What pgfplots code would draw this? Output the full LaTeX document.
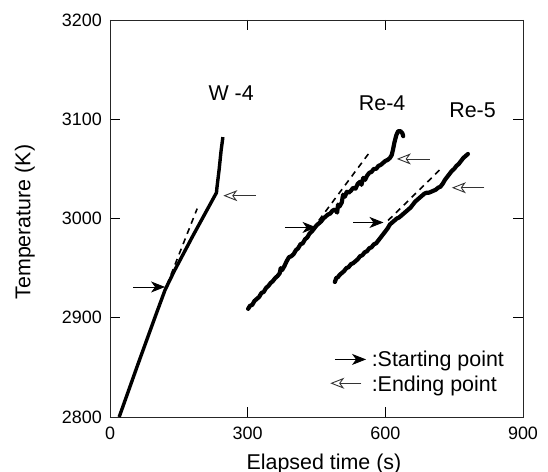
\documentclass[border=0pt]{standalone}
\usepackage{fontspec}
\setmainfont{Liberation Sans}
\usepackage{pgfplots}
\pgfplotsset{compat=1.18}
\usetikzlibrary{arrows.meta}

\newcommand\tickfont{\fontsize{18}{21}\selectfont}
\newcommand\labfont{\fontsize{21.5}{25}\selectfont}

\begin{document}
\begin{tikzpicture}
\useasboundingbox (-110bp,-55bp) rectangle (438bp,417bp);
\begin{axis}[
    at={(0,0)}, anchor=south west,
    scale only axis, width=413bp, height=397bp,
    xmin=0, xmax=900, ymin=2800, ymax=3200,
    xtick={0,300,600,900}, ytick={2800,2900,3000,3100,3200},
    tick align=inside, major tick length=10bp,
    axis line style={black!85, line width=0.8pt},
    tick style={black, line width=0.8pt},
    /pgf/number format/1000 sep={},
    /pgf/number format/assume math mode=true,
    ticklabel style={font=\tickfont, inner sep=0pt},
    xticklabel style={anchor=north, yshift=-10bp},
    yticklabel style={anchor=east, xshift=-8bp},
    xlabel={Elapsed time (s)},
    ylabel={Temperature (K)},
    label style={font=\labfont},
    xlabel style={at={(axis description cs:0.518,-0.131)}, anchor=base},
    ylabel style={at={(axis description cs:-0.206,0.491)}, anchor=center},
    clip=false,
]
% W-4
\addplot[black, line width=3.4bp, line join=round] coordinates {
 (20,2800) (60,2852) (100,2903) (120,2928) (140,2947) (180,2982) (232,3026)
 (233,3031) (238,3050) (242,3068) (246,3082)};
\addplot[black, line width=1.6bp, dash pattern=on 6bp off 5bp] coordinates {(124,2933) (190,3010)};

% Re-4
\addplot[black, line width=4.2bp, line join=round, line cap=round] coordinates {
 (301,2909) (305,2912) (310,2913) (315,2917) (320,2919) (325,2921) (330,2925) (335,2926)
 (340,2930) (345,2932) (350,2935) (355,2937) (360,2940) (365,2942) (370,2945) (372,2950)
 (375,2948) (380,2952) (385,2957) (390,2961) (395,2962) (400,2964) (405,2968) (410,2970)
 (415,2974) (420,2975) (425,2979) (430,2981) (435,2985) (440,2987) (445,2990) (450,2993)
 (455,2995) (460,2997) (465,3000) (470,3002) (475,3004) (480,3005) (485,3008) (490,3009)
 (495,3006) (497,3014) (500,3012) (505,3016) (508,3024) (512,3022) (516,3027) (520,3026)
 (525,3028) (530,3031) (535,3030) (540,3035) (545,3037) (548,3034) (552,3041) (556,3039)
 (560,3043) (565,3046) (570,3047) (575,3050) (580,3050) (585,3053) (590,3054) (595,3056)
 (600,3058) (605,3059) (610,3061) (614,3064) (617,3070) (620,3077) (624,3084) (628,3088)
 (633,3088) (637,3086) (639,3083)};
\addplot[black, line width=1.6bp, dash pattern=on 6bp off 5bp] coordinates {(455,2998) (563,3065)};

% Re-5
\addplot[black, line width=4.2bp, line join=round, line cap=round] coordinates {
 (490,2936) (493,2940) (497,2941) (500,2943) (505,2945) (510,2947) (515,2950) (520,2951)
 (525,2954) (530,2955) (535,2957) (540,2959) (545,2962) (550,2963) (555,2966) (560,2967)
 (565,2970) (570,2971) (575,2974) (580,2975) (585,2978) (590,2981) (595,2984) (600,2987)
 (605,2990) (610,2994) (615,2996) (620,2998) (625,3000) (630,3001) (635,3003) (640,3005)
 (645,3007) (650,3009) (655,3011) (660,3014) (665,3017) (670,3019) (675,3021) (680,3023)
 (685,3025) (690,3026) (695,3026) (700,3027) (705,3028) (710,3029) (715,3031) (720,3032)
 (725,3035) (730,3039) (735,3042) (740,3045) (745,3048) (750,3050) (755,3053) (760,3055)
 (765,3058) (770,3061) (775,3063) (780,3065)};
\addplot[black, line width=1.6bp, dash pattern=on 6bp off 5bp] coordinates {(606,2998) (723,3051)};

% starting-point arrows
\addplot[black, line width=0.9pt, -{Stealth[length=14bp, width=11bp, inset=4bp]}] coordinates {(51,2931) (120,2931)};
\addplot[black, line width=0.9pt, -{Stealth[length=14bp, width=11bp, inset=4bp]}] coordinates {(381,2991) (450,2991)};
\addplot[black, line width=0.9pt, -{Stealth[length=14bp, width=11bp, inset=4bp]}] coordinates {(530,2996) (596,2996)};
% ending-point arrows
\addplot[black!80, line width=0.9pt, -{Stealth[open, length=14bp, width=11bp, inset=4bp]}] coordinates {(318,3023) (247,3023)};
\addplot[black!80, line width=0.9pt, -{Stealth[open, length=14bp, width=11bp, inset=4bp]}] coordinates {(697,3060) (625,3060)};
\addplot[black!80, line width=0.9pt, -{Stealth[open, length=14bp, width=11bp, inset=4bp]}] coordinates {(816,3031) (745,3031)};
% key
\addplot[black, line width=0.9pt, -{Stealth[length=14bp, width=11bp, inset=4bp]}] coordinates {(490,2858) (558,2858)};
\addplot[black!80, line width=0.9pt, -{Stealth[open, length=14bp, width=11bp, inset=4bp]}] coordinates {(548,2834) (480,2834)};

\node[font=\labfont, anchor=base west, inner sep=0pt] at (axis cs:570,2851) {:Starting point};
\node[font=\labfont, anchor=base west, inner sep=0pt] at (axis cs:570,2826) {:Ending point};

\node[font=\labfont, inner sep=0pt] at (axis cs:264,3126) {W -4};
\node[font=\labfont, inner sep=0pt] at (axis cs:593,3116) {Re-4};
\node[font=\labfont, inner sep=0pt] at (axis cs:790,3109) {Re-5};
\end{axis}
\end{tikzpicture}
\end{document}
